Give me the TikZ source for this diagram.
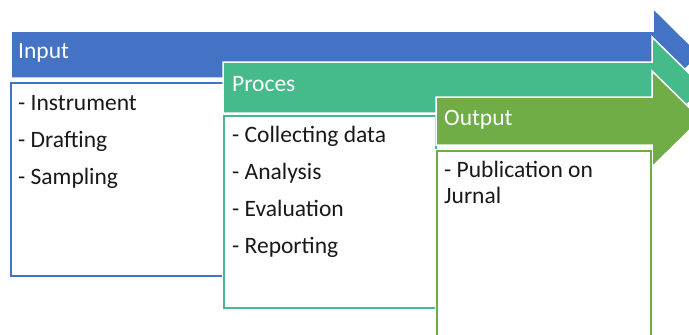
\documentclass[tikz,border=0pt]{standalone}
\usepackage{fontspec}
\setmainfont{Carlito}
\definecolor{inblue}{HTML}{4472C4}
\definecolor{prteal}{HTML}{45BA8B}
\definecolor{outgreen}{HTML}{70AD47}

\begin{document}
\begin{tikzpicture}[x=1pt,y=-1pt,
  band/.style={draw=white,line width=1.5pt,line join=miter},
  box/.style={draw=white,double=#1,double distance=2.5pt,line width=0.8pt,fill=white},
  head/.style={every node/.style={anchor=base west,inner sep=0pt,text=white,
    font=\fontsize{23.5}{26}\selectfont}},
  item/.style={every node/.style={anchor=base west,inner sep=0pt,text=black!90,
    font=\fontsize{23.5}{26}\selectfont}}]
  \useasboundingbox (0,0) rectangle (689,335);
  \clip (0,0) rectangle (689,335);

  % three stacked arrows, each with its own list box
  \fill[inblue,band] (11,31) -- (653,31) -- (653,8) -- (700,54.5)
    -- (653,101) -- (653,78) -- (11,78) -- cycle;
  \draw[box=inblue] (11,83) rectangle (226,276);
  \fill[prteal,band] (223,62) -- (652,62) -- (652,37) -- (704,88)
    -- (652,139) -- (652,113) -- (223,113) -- cycle;
  \draw[box=prteal] (224,116) rectangle (436,308);
  \fill[outgreen,band] (436,97) -- (652,97) -- (652,71) -- (701,119)
    -- (652,167) -- (652,145) -- (436,145) -- cycle;
  \draw[box=outgreen] (437,151) rectangle (651,350);

  \path[head] (18,58)  node (input)  {Input}
              (232,91) node (proces) {Proces}
              (444,125) node (output) {Output};
  \path[item] (18,110) node (in1) {- Instrument}
              (18,147) node (in2) {- Drafting}
              (18,184) node (in3) {- Sampling};
  \path[item] (232,142) node (pr1) {- Collecting data}
              (232,179) node (pr2) {- Analysis}
              (232,216) node (pr3) {- Evaluation}
              (232,253) node (pr4) {- Reporting};
  \path[item] (444,177) node (out1) {- Publication on}
              (444,203) node (out2) {Jurnal};
\end{tikzpicture}
\end{document}
